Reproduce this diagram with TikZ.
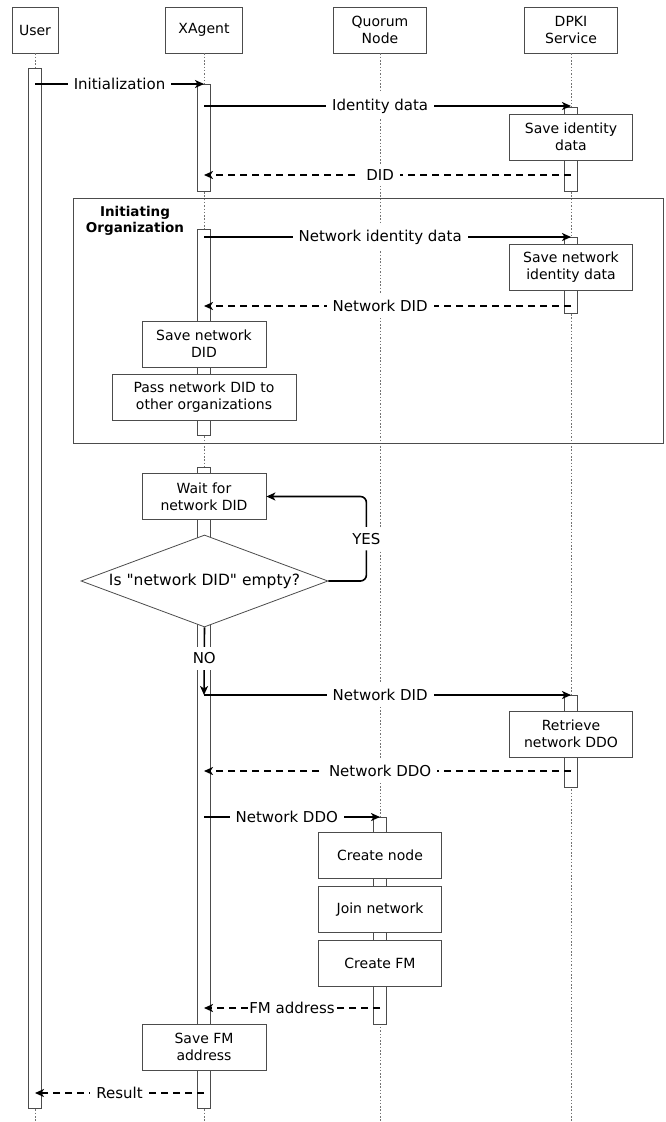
\documentclass[tikz,border=0pt]{standalone}
\usepackage{fontspec}
\setmainfont{DejaVu Sans}[Ligatures=TeXOff]
\usetikzlibrary{arrows.meta,shapes.geometric}

\colorlet{boxline}{black!70}

\begin{document}
\begin{tikzpicture}[x=1pt,y=-1pt,>={Stealth[length=9pt,width=8pt,inset=2.5pt]},
  font=\fontsize{14}{17}\selectfont,
  actor/.style={draw=boxline,fill=white,line width=0.8pt,minimum height=46pt,
    minimum width=#1,align=center,inner sep=0pt},
  actor/.default=93pt,
  task/.style={actor=#1},
  task/.default=123pt,
  decision/.style={diamond,draw=boxline,fill=white,line width=0.8pt,aspect=2.66,
    minimum width=247pt,minimum height=92pt,inner sep=0pt,
    font=\fontsize{15.5}{18}\selectfont},
  life/.style={draw=black!55,line width=0.8pt,dash pattern=on 1.5pt off 1.8pt},
  bar/.style={draw=boxline,fill=white,line width=0.8pt},
  msg/.style={->,line width=1.6pt},
  ret/.style={msg,dash pattern=on 7pt off 5pt},
  lbl/.style={fill=white,inner xsep=6pt,inner ysep=6pt,font=\fontsize{15}{18}\selectfont}]

  \useasboundingbox (0,0) rectangle (666,1122);

  % participants
  \node[actor=46pt]	(User)   at (35,30)  {User};
  \node[actor=77pt]	(XAgent) at (204,30) {XAgent};
  \node[actor]		(Quorum) at (380,30) {Quorum\\Node};
  \node[actor]		(DPKI)   at (571,30) {DPKI\\Service};

  \foreach \who in {User,XAgent,Quorum,DPKI}
    \draw[life] (\who.south) -- ++(0,1069);

  % frame
  \draw[draw=boxline,line width=1pt] (73,198) rectangle (663,443);
  \node[align=center,font=\fontsize{13.5}{16}\selectfont\bfseries] (OrgLabel) at (135,221) {Initiating\\Organization};

  % activation bars
  \draw[bar] (28.5,68)   rectangle (41.5,1108);
  \draw[bar] (197.5,84)  rectangle (210.5,191);
  \draw[bar] (197.5,229) rectangle (210.5,435);
  \draw[bar] (197.5,467) rectangle (210.5,1108);
  \draw[bar] (564.5,107) rectangle (577.5,191);
  \draw[bar] (564.5,237) rectangle (577.5,313);
  \draw[bar] (564.5,695) rectangle (577.5,787);
  \draw[bar] (373.5,817) rectangle (386.5,1024);

  % message ends
  \coordinate (u1)  at (35,84);   \coordinate (x1)  at (204,84);
  \coordinate (x2)  at (204,106); \coordinate (d2)  at (571,106);
  \coordinate (d3)  at (571,175); \coordinate (x3)  at (204,175);
  \coordinate (x4)  at (204,237); \coordinate (d4)  at (571,237);
  \coordinate (d5)  at (571,306); \coordinate (x5)  at (204,306);
  \coordinate (x6)  at (204,695); \coordinate (d6)  at (571,695);
  \coordinate (d7)  at (571,771); \coordinate (x7)  at (204,771);
  \coordinate (x8)  at (204,817); \coordinate (q8)  at (380,817);
  \coordinate (q9)  at (380,1008);\coordinate (x9)  at (204,1008);
  \coordinate (x10) at (204,1093);\coordinate (u10) at (35,1093);

  \path
  (u1)  edge[msg] node[lbl] {Initialization} (x1)
  (x2)  edge[msg] node[lbl,pos=0.48] {Identity data} (d2)
  (d3)  edge[ret] node[lbl,pos=0.52] {DID} (x3)
  (x4)  edge[msg] node[lbl,pos=0.48] {Network identity data} (d4)
  (d5)  edge[ret] node[lbl,pos=0.52] {Network DID} (x5)
  (x6)  edge[msg] node[lbl,pos=0.48] {Network DID} (d6)
  (d7)  edge[ret] node[lbl,pos=0.52] {Network DDO} (x7)
  (x8)  edge[msg] node[lbl,pos=0.47] {Network DDO} (q8)
  (q9)  edge[ret] node[lbl,inner xsep=1pt] {FM address} (x9)
  (x10) edge[ret] node[lbl] {Result} (u10)
  ; % end of \path

  % actions
  \node[task]		(SaveId)     at (571,137)   {Save identity\\data};
  \node[task]		(SaveNetId)  at (571,267)   {Save network\\identity data};
  \node[task=124pt]	(SaveNetDID) at (204,344)   {Save network\\DID};
  \node[task=184pt]	(PassDID)    at (204,397.5) {Pass network DID to\\other organizations};
  \node[task=124pt]	(Wait)       at (204,496.5) {Wait for\\network DID};
  \node[decision]	(Empty)      at (204.5,581) {Is "network DID" empty?};
  \node[task]		(Retrieve)   at (571,734)   {Retrieve\\network DDO};
  \node[task]		(CreateNode) at (380,855.5) {Create node};
  \node[task]		(Join)       at (380,909.5) {Join network};
  \node[task]		(CreateFM)   at (380,963)   {Create FM};
  \node[task=124pt]	(SaveFM)     at (204,1047)  {Save FM\\address};

  \draw[msg,rounded corners=6pt] (Empty.east) -- ++(38,0) |- node[lbl,pos=0.25] {YES} (Wait.east);
  \draw[msg] (Empty.south) -- node[lbl,pos=0.46] {NO} (x6);
\end{tikzpicture}
\end{document}
